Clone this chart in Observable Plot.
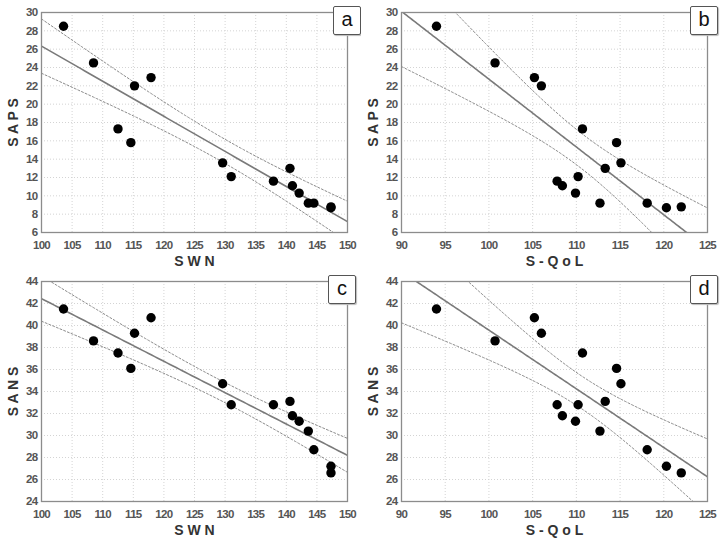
<!DOCTYPE html>
<html>
<head>
<meta charset="utf-8">
<script src="https://cdn.jsdelivr.net/npm/d3@7"></script>
<script src="https://cdn.jsdelivr.net/npm/@observablehq/plot@0.6"></script>
<style>
  html, body { margin: 0; padding: 0; background: #fff; }
  #wrap { position: relative; width: 722px; height: 541px; font-family: "Liberation Sans", Arial, sans-serif; }
  .panel { position: absolute; }
  .panel g[aria-label="x-axis tick label"], .panel g[aria-label="y-axis tick label"] { letter-spacing: -0.7px; }
  .tag { position: absolute; width: 26px; height: 27px; border: 1.5px solid #555; border-radius: 2px; background: #fff;
         font-size: 20px; line-height: 25px; text-align: center; color: #111; box-shadow: 1px 1px 1px #bbb; }
</style>
</head>
<body>
<div id="wrap"></div>
<script>
// ---- data (one entry per subject) ----
const swn  = [103.6, 108.5, 112.5, 114.6, 115.2, 117.9, 129.6, 131.0, 137.9, 140.6, 141.0, 142.1, 143.6, 144.5, 147.3, 147.3];
const sqol = [ 94.0, 100.7, 110.7, 114.6, 106.0, 105.2, 115.1, 110.2, 107.8, 113.3, 108.4, 109.9, 112.7, 118.1, 120.3, 122.0];
const saps = [ 28.5,  24.5,  17.3,  15.8,  22.0,  22.9,  13.6,  12.1,  11.6,  13.0,  11.1,  10.3,   9.2,   9.2,   8.7,   8.8];
const sans = [ 41.5,  38.6,  37.5,  36.1,  39.3,  40.7,  34.7,  32.8,  32.8,  33.1,  31.8,  31.3,  30.4,  28.7,  27.2,  26.6];

const swnTicks  = [100, 105, 110, 115, 120, 125, 130, 135, 140, 145, 150];
const sqolTicks = [90, 95, 100, 105, 110, 115, 120, 125];
const sapsTicks = [6, 8, 10, 12, 14, 16, 18, 20, 22, 24, 26, 28, 30];
const sansTicks = [24, 26, 28, 30, 32, 34, 36, 38, 40, 42, 44];

const panelTags = ["a", "b", "c", "d"];
const xLabels = ["S W N", "S - Q o L", "S W N", "S - Q o L"];
const yLabels = ["S A P S", "S A P S", "S A N S", "S A N S"];

// t quantile (0.975, df = 14) for the 95% confidence band of the mean
const T975 = 2.145;

function regression(xs, ys, domain) {
  const n = xs.length;
  const mx = d3.mean(xs), my = d3.mean(ys);
  let sxx = 0, sxy = 0;
  for (let i = 0; i < n; i++) { sxx += (xs[i] - mx) ** 2; sxy += (xs[i] - mx) * (ys[i] - my); }
  const b = sxy / sxx, a = my - b * mx;
  let sse = 0;
  for (let i = 0; i < n; i++) sse += (ys[i] - (a + b * xs[i])) ** 2;
  const s = Math.sqrt(sse / (n - 2));
  return d3.ticks(domain[0], domain[1], 120).map(x => {
    const yh = a + b * x;
    const h = T975 * s * Math.sqrt(1 / n + (x - mx) ** 2 / sxx);
    return {x, y: yh, lo: yh - h, hi: yh + h};
  });
}

const panels = [
  {xs: swn,  ys: saps, xd: [100, 150], yd: [6, 30],  xt: swnTicks,  yt: sapsTicks, left: 0,   top: 0,   h: 270, mt: 12, mb: 38, ml: 41, mr: 14},
  {xs: sqol, ys: saps, xd: [90, 125],  yd: [6, 30],  xt: sqolTicks, yt: sapsTicks, left: 361, top: 0,   h: 270, mt: 12, mb: 38, ml: 40, mr: 15},
  {xs: swn,  ys: sans, xd: [100, 150], yd: [24, 44], xt: swnTicks,  yt: sansTicks, left: 0,   top: 270, h: 271, mt: 11, mb: 40, ml: 41, mr: 14},
  {xs: sqol, ys: sans, xd: [90, 125],  yd: [24, 44], xt: sqolTicks, yt: sansTicks, left: 361, top: 270, h: 271, mt: 11, mb: 40, ml: 40, mr: 15}
];
const tagPos = [[333, 6], [690, 6], [328, 275], [690, 275]];

const wrap = document.getElementById("wrap");
panels.forEach((p, i) => {
  const pts = p.xs.map((x, k) => ({x, y: p.ys[k]}));
  const reg = regression(p.xs, p.ys, p.xd);
  const chart = Plot.plot({
    width: 361, height: p.h,
    marginTop: p.mt, marginBottom: p.mb, marginLeft: p.ml, marginRight: p.mr,
    style: {fontFamily: "Liberation Sans, Arial, sans-serif", fontSize: "11.5px", color: "#555", background: "#fff"},
    x: {domain: p.xd, ticks: p.xt},
    y: {domain: p.yd, ticks: p.yt},
    marks: [
      Plot.gridX(p.xt, {stroke: "#d4d4d4", strokeOpacity: 1, strokeDasharray: "1,2"}),
      Plot.gridY(p.yt, {stroke: "#d4d4d4", strokeOpacity: 1, strokeDasharray: "1,2"}),
      Plot.axisX(p.xt, {tickSize: 0, tickPadding: 8, label: null, fontWeight: "bold"}),
      Plot.axisY(p.yt, {tickSize: 0, tickPadding: 4, label: null, fontWeight: "bold"}),
      Plot.line(reg, {x: "x", y: "lo", stroke: "#8a8a8a", strokeWidth: 1, strokeDasharray: "2,2", clip: true}),
      Plot.line(reg, {x: "x", y: "hi", stroke: "#8a8a8a", strokeWidth: 1, strokeDasharray: "2,2", clip: true}),
      Plot.line(reg, {x: "x", y: "y", stroke: "#7a7a7a", strokeWidth: 1.6, clip: true}),
      Plot.dot(pts, {x: "x", y: "y", r: 4.7, fill: "#000", stroke: "none"}),
      Plot.frame({stroke: "#8c8c8c", strokeWidth: 1.3}),
      Plot.text([xLabels[i]], {text: d => d, frameAnchor: "bottom", lineAnchor: "middle", textAnchor: "middle", dy: 29, fontSize: 14, fontWeight: "bold", fill: "#333"}),
      Plot.text([yLabels[i]], {text: d => d, frameAnchor: "left", lineAnchor: "middle", textAnchor: "middle", dx: -28, rotate: -90, fontSize: 14, fontWeight: "bold", fill: "#333"})
    ]
  });
  const holder = document.createElement("div");
  holder.className = "panel";
  holder.style.left = p.left + "px";
  holder.style.top = p.top + "px";
  holder.appendChild(chart);
  wrap.appendChild(holder);

  const tag = document.createElement("div");
  tag.className = "tag";
  tag.textContent = panelTags[i];
  tag.style.left = tagPos[i][0] + "px";
  tag.style.top = tagPos[i][1] + "px";
  wrap.appendChild(tag);
});
</script>
</body>
</html>
